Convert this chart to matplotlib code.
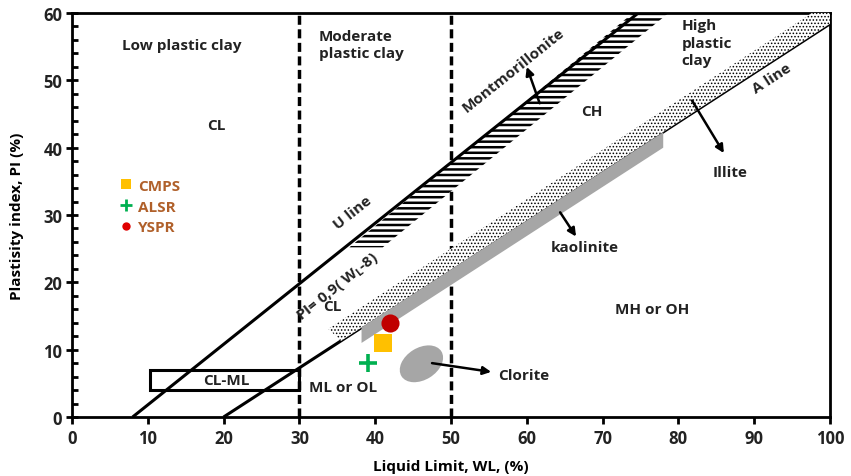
import matplotlib
matplotlib.use("Agg")
import matplotlib.pyplot as plt
from matplotlib.patches import Polygon, Rectangle, Ellipse
from matplotlib.lines import Line2D
import matplotlib.transforms as mtransforms

plt.rcParams['font.family'] = ['Open Sans', 'DejaVu Sans']
plt.rcParams['font.weight'] = 'bold'
plt.rcParams['mathtext.default'] = 'regular'

# ---- data ----
sample_names = ['CMPS', 'ALSR', 'YSPR']
sample_wl = [41, 39, 42]
sample_pi = [11, 8, 14]
sample_colors = ['#FFC000', '#00B050', '#C00000']

u_line_wl = [8, 74.7]
u_line_pi = [0, 60]
a_line_wl = [20, 100]
a_line_pi = [0, 58.4]

clml_wl = [10.3, 30]
clml_pi = [4, 7]

divider_wl = [30, 50]

montmorillonite_wl = [36.6, 74.0, 78.7, 41]
montmorillonite_pi = [25.2, 60, 60, 25.2]

illite_wl = [35.5, 33.8, 97.6, 100, 100]
illite_pi = [11.3, 13.1, 60, 60, 58.4]

kaolinite_wl = [38.2, 78, 78, 38.2]
kaolinite_pi = [13.3, 42.3, 40.0, 11.0]

clorite_center = (46.1, 7.9)

xticks = list(range(0, 101, 10))
yticks = list(range(0, 61, 10))

fig = plt.figure(figsize=(8.51, 4.77), dpi=100)
ax = fig.add_axes([0.0846, 0.1237, 0.8907, 0.8469])
ax.set_xlim(0, 100)
ax.set_ylim(0, 60)

# U and A lines
ax.plot(u_line_wl, u_line_pi, color='black', lw=2.2, zorder=3, solid_capstyle='butt')
ax.plot(a_line_wl, a_line_pi, color='black', lw=2.2, zorder=3, solid_capstyle='butt')

# dividers
for d in divider_wl:
    ax.plot([d, d], [0, 60], color='black', lw=2.5, dashes=(2.6, 1.3), zorder=2)

# montmorillonite band (horizontal hatch)
plt.rcParams['hatch.linewidth'] = 1.8
mont = Polygon(list(zip(montmorillonite_wl, montmorillonite_pi)), closed=True,
               facecolor='white', edgecolor='black', lw=0, hatch='---', zorder=2)
if hasattr(mont, 'set_hatch_linewidth'):
    mont.set_hatch_linewidth(1.8)
ax.add_patch(mont)

# illite band (dotted)
plt.rcParams['hatch.linewidth'] = 0.7
ill = Polygon(list(zip(illite_wl, illite_pi)), closed=True,
              facecolor='white', edgecolor='#000000', lw=0, hatch='.....', zorder=4)
if hasattr(ill, 'set_hatch_linewidth'):
    ill.set_hatch_linewidth(0.7)
ax.add_patch(ill)

# kaolinite band (grey)
kao = Polygon(list(zip(kaolinite_wl, kaolinite_pi)), closed=True,
              facecolor='#A6A6A6', edgecolor='none', zorder=5)
ax.add_patch(kao)

# clorite ellipse
ell_tr = fig.dpi_scale_trans + mtransforms.ScaledTranslation(clorite_center[0], clorite_center[1], ax.transData)
ell = Ellipse((0, 0), width=0.47, height=0.32, angle=32, transform=ell_tr,
              facecolor='#A6A6A6', edgecolor='none', zorder=5)
ax.add_patch(ell)

# CL-ML rectangle
ax.add_patch(Rectangle((clml_wl[0], clml_pi[0]), clml_wl[1] - clml_wl[0], clml_pi[1] - clml_pi[0],
                       fill=False, edgecolor='black', lw=2.2, zorder=3))

# sample points
ax.scatter([sample_wl[0]], [sample_pi[0]], marker='s', s=150, color=sample_colors[0], zorder=7, linewidths=0)
ax.scatter([sample_wl[1]], [sample_pi[1]], marker='+', s=170, color=sample_colors[1], zorder=7, linewidths=2.6)
ax.scatter([sample_wl[2]], [sample_pi[2]], marker='o', s=170, color=sample_colors[2], zorder=7, linewidths=0)

# arrows
arrow_kw = dict(arrowstyle='-|>', color='black', lw=1.8, mutation_scale=12, shrinkA=0, shrinkB=0)
ax.annotate('', xy=(60.0, 52.0), xytext=(61.7, 46.6), arrowprops=arrow_kw, zorder=6)
ax.annotate('', xy=(86.0, 39.2), xytext=(81.8, 47.0), arrowprops=arrow_kw, zorder=6)
ax.annotate('', xy=(66.5, 26.8), xytext=(64.4, 30.4), arrowprops=arrow_kw, zorder=6)
ax.annotate('', xy=(55.3, 6.7), xytext=(47.5, 8.0), arrowprops=arrow_kw, zorder=6)

# texts
fs = 11
tk = dict(fontsize=fs, fontweight='bold', color='#222222')
ax.text(14.5, 55.2, 'Low plastic clay', ha='center', va='center', **tk)
ax.text(19.0, 43.3, 'CL', ha='center', va='center', **tk)
ax.text(32.6, 55.3, 'Moderate\nplastic clay', ha='left', va='center', linespacing=1.3, **tk)
ax.text(80.4, 55.6, 'High\nplastic\nclay', ha='left', va='center', linespacing=1.3, **tk)
ax.text(58.2, 51.6, 'Montmorillonite', ha='center', va='center', rotation=38.6, rotation_mode='anchor', **tk)
ax.text(37.0, 30.4, 'U line', ha='center', va='center', rotation=38.6, rotation_mode='anchor', **tk)
ax.text(35.0, 19.4, 'PI= 0,9( W$_{L}$-8)', ha='center', va='center', rotation=38.6, rotation_mode='anchor', **tk)
ax.text(68.6, 45.5, 'CH', ha='center', va='center', **tk)
ax.text(92.3, 50.4, 'A line', ha='center', va='center', rotation=33, rotation_mode='anchor', **tk)
ax.text(86.8, 36.4, 'Illite', ha='center', va='center', **tk)
ax.text(67.7, 25.3, 'kaolinite', ha='center', va='center', **tk)
ax.text(76.5, 16.0, 'MH or OH', ha='center', va='center', **tk)
ax.text(56.2, 6.3, 'Clorite', ha='left', va='center', **tk)
ax.text(35.8, 4.4, 'ML or OL', ha='center', va='center', **tk)
ax.text(34.4, 16.5, 'CL', ha='center', va='center', **tk)
ax.text(20.3, 5.5, 'CL-ML', ha='center', va='center', **tk)

# legend
handles = [
    Line2D([], [], marker='s', color=sample_colors[0], ls='none', markersize=7, markeredgewidth=0),
    Line2D([], [], marker='+', color=sample_colors[1], ls='none', markersize=8, markeredgewidth=2),
    Line2D([], [], marker='o', color='#E00000', ls='none', markersize=6, markeredgewidth=0),
]
leg = ax.legend(handles, sample_names, loc='upper left', bbox_to_anchor=(0.055, 0.605),
                frameon=False, handlelength=0.8, handletextpad=0.4, labelspacing=0.45,
                borderaxespad=0, prop={'weight': 'bold', 'size': 11})
for t in leg.get_texts():
    t.set_color('#B0602A')

# axes styling
for sp in ax.spines.values():
    sp.set_linewidth(2.0)
ax.set_xticks(xticks)
ax.set_yticks(yticks)
ax.set_yticks(list(range(0, 61, 2)), minor=True)
ax.tick_params(axis='y', which='major', direction='inout', length=8, width=2, labelsize=12, pad=3)
ax.tick_params(axis='y', which='minor', direction='in', length=4, width=2)
ax.tick_params(axis='x', which='major', direction='out', length=5, width=2, labelsize=12, pad=4)
for lab in ax.get_xticklabels() + ax.get_yticklabels():
    lab.set_fontweight('bold')
    lab.set_color('#222222')

ax.set_xlabel('Liquid Limit, WL, (%)', fontsize=11, fontweight='bold', labelpad=8)
ax.set_ylabel('Plastisity index, PI (%)', fontsize=11, fontweight='bold', labelpad=14)

fig.savefig('out.png', dpi=100)
